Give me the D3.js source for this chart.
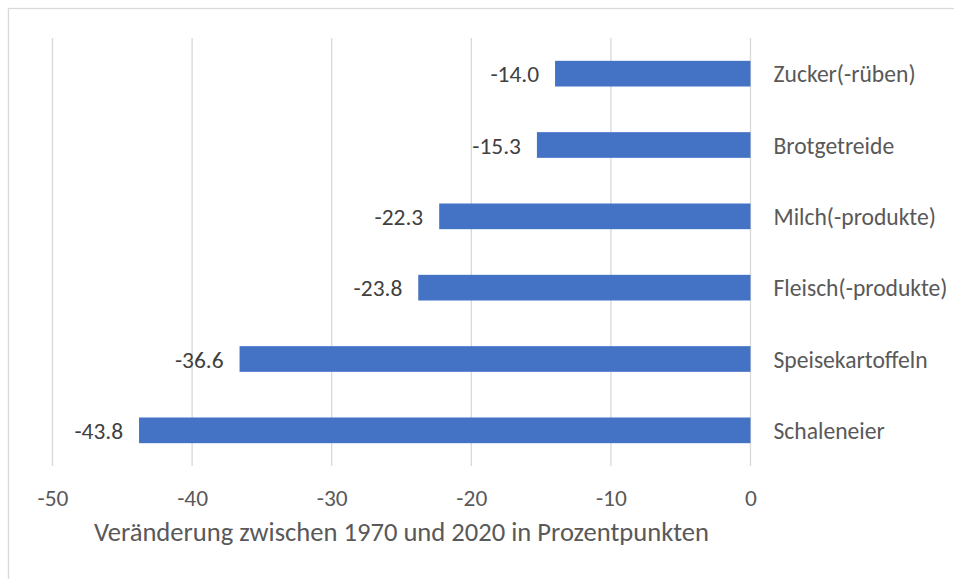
<!DOCTYPE html>
<html>
<head>
<meta charset="utf-8">
<script src="https://cdn.jsdelivr.net/npm/d3@7"></script>
<style>
  body { margin: 0; background: #fff; }
  text { font-family: Calibri, Carlito, Lato, "Open Sans", sans-serif; }
</style>
</head>
<body>
<script>
// data
var categories = ["Zucker(-rüben)", "Brotgetreide", "Milch(-produkte)", "Fleisch(-produkte)", "Speisekartoffeln", "Schaleneier"];
var values = [-14.0, -15.3, -22.3, -23.8, -36.6, -43.8];
var tickValues = [-50, -40, -30, -20, -10, 0];
var axisTitle = "Veränderung zwischen 1970 und 2020 in Prozentpunkten";

var width = 954, height = 579;
var fontFam = "Calibri, Carlito, Lato, 'Open Sans', sans-serif";

var svg = d3.select("body").append("svg")
    .attr("width", width)
    .attr("height", height);

// chart frame (runs off the right and bottom edge)
svg.append("rect")
    .attr("x", 8.5)
    .attr("y", 8.5)
    .attr("width", 960)
    .attr("height", 600)
    .attr("fill", "none")
    .attr("stroke", "#d9d9d9")
    .attr("stroke-width", 1.3);

var x = d3.scaleLinear()
    .domain([-50, 0])
    .range([52.5, 750.5]);

var y = d3.scaleBand()
    .domain(categories)
    .range([38, 466])
    .paddingInner(0.64)
    .paddingOuter(0.32);

// gridlines
svg.append("g")
  .selectAll("line")
  .data(tickValues)
  .join("line")
    .attr("x1", d => x(d))
    .attr("x2", d => x(d))
    .attr("y1", 38)
    .attr("y2", 466)
    .attr("stroke", "#d9d9d9")
    .attr("stroke-width", 1.3);

// bars
svg.append("g")
  .selectAll("rect")
  .data(values)
  .join("rect")
    .attr("x", d => x(d))
    .attr("y", (d, i) => y(categories[i]))
    .attr("width", d => x(0) - x(d))
    .attr("height", y.bandwidth())
    .attr("fill", "#4472c4");

// value labels
svg.append("g")
  .selectAll("text")
  .data(values)
  .join("text")
    .attr("x", d => x(d) - 16)
    .attr("y", (d, i) => y(categories[i]) + y.bandwidth() / 2 + 8.5)
    .attr("text-anchor", "end")
    .attr("font-size", 23.4)
    .attr("fill", "#404040")
    .text(d => d.toFixed(1));

// category labels on the right of the zero line
svg.append("g")
  .selectAll("text")
  .data(categories)
  .join("text")
    .attr("x", x(0) + 23)
    .attr("y", d => y(d) + y.bandwidth() / 2 + 8.5)
    .attr("font-size", 23.6)
    .attr("fill", "#595959")
    .text(d => d);

// x axis tick labels
var xAxis = d3.axisBottom(x)
    .tickValues(tickValues)
    .tickSize(0)
    .tickPadding(0)
    .tickFormat(d => String(d));

var axisG = svg.append("g")
    .attr("transform", "translate(0,506)")
    .call(xAxis);
axisG.select(".domain").remove();
axisG.selectAll("text")
    .attr("font-size", 23.4)
    .attr("fill", "#595959")
    .attr("dy", null)
    .attr("y", 0)
    .style("font-family", fontFam);

// axis title
svg.append("text")
    .attr("x", (x(-50) + x(0)) / 2)
    .attr("y", 541)
    .attr("text-anchor", "middle")
    .attr("font-size", 26.6)
    .attr("fill", "#595959")
    .text(axisTitle);
</script>
</body>
</html>
